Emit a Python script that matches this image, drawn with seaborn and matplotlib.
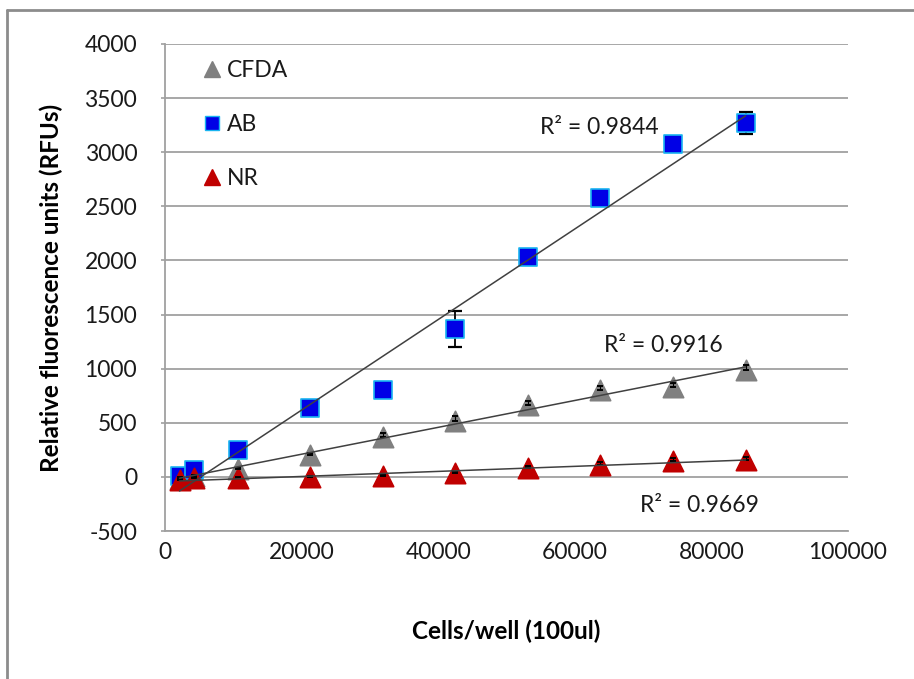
import matplotlib
matplotlib.use("Agg")
import matplotlib.pyplot as plt
import seaborn as sns
import numpy as np
import pandas as pd
from matplotlib.lines import Line2D

# ---------------- data ----------------
cells = [2125, 4250, 10625, 21250, 31875, 42500, 53125, 63750, 74375, 85000]
cfda = [-15, 10, 70, 200, 370, 520, 665, 800, 830, 990]
cfda_err = [10, 10, 15, 25, 35, 40, 40, 43, 37, 46]
ab = [5, 60, 250, 640, 800, 1365, 2030, 2575, 3080, 3270]
ab_err = [20, 20, 20, 20, 20, 165, 20, 20, 20, 105]
nr = [-30, -12, -12, -3, 5, 35, 80, 110, 148, 160]
nr_err = [10, 10, 10, 15, 15, 20, 20, 25, 25, 25]
series_names = ["CFDA", "AB", "NR"]
r2_labels = ["R\u00b2 = 0.9916", "R\u00b2 = 0.9844", "R\u00b2 = 0.9669"]
x_ticks = [0, 20000, 40000, 60000, 80000, 100000]
y_ticks = [-500, 0, 500, 1000, 1500, 2000, 2500, 3000, 3500, 4000]
x_label = "Cells/well (100ul)"
y_label = "Relative fluorescence units (RFUs)"

# ---------------- style ----------------
sns.set_theme(style="white")
plt.rcParams['font.family'] = ['Lato', 'DejaVu Sans']

W, H = 914, 679
fig = plt.figure(figsize=(W / 100, H / 100), dpi=100)
L, R, T, B = 165, 848, 44, 531
ax = fig.add_axes([L / W, 1 - B / H, (R - L) / W, (B - T) / H])

grid_c = "#a0a0a0"
colors = {"CFDA": "#808080", "AB": "#0000e6", "NR": "#c00000"}
edges = {"CFDA": "#808080", "AB": "#19b4f0", "NR": "#c00000"}
markers = {"CFDA": "^", "AB": "s", "NR": "^"}
sizes = {"CFDA": 215, "AB": 150, "NR": 215}

vals = {"CFDA": cfda, "AB": ab, "NR": nr}
errs = {"CFDA": cfda_err, "AB": ab_err, "NR": nr_err}

df = pd.DataFrame({
    "cells": cells * 3,
    "rfu": cfda + ab + nr,
    "series": [s for s in series_names for _ in cells],
})

# error bars for AB (under markers)
ax.errorbar(cells, ab, yerr=ab_err, fmt="none", ecolor="black",
            elinewidth=1.3, capsize=5, capthick=1.6, zorder=2)

for i, s in enumerate(series_names):
    sub = df[df["series"] == s]
    sns.scatterplot(data=sub, x="cells", y="rfu", ax=ax, marker=markers[s],
                    color=colors[s], edgecolor=edges[s], linewidth=1.2,
                    s=sizes[s], legend=False, zorder=3 + i)

# small error bars on triangles (upper only, visible on top)
for s in ["CFDA", "NR"]:
    e = errs[s]
    ax.errorbar(cells, vals[s], yerr=[np.zeros(len(e)), e], fmt="none",
                ecolor="black", elinewidth=0.8, capsize=2.5, capthick=1.4,
                zorder=7)

# linear trend lines
for s in series_names:
    sns.regplot(x=np.array(cells), y=np.array(vals[s]), ax=ax, scatter=False,
                ci=None, truncate=True,
                line_kws=dict(color="#404040", lw=1.1, zorder=8))

ax.set_xlim(0, 100000)
ax.set_ylim(-500, 4000)
ax.set_xticks(x_ticks)
ax.set_yticks(y_ticks)
ax.set_xticklabels([str(v) for v in x_ticks])
ax.set_yticklabels([str(v) for v in y_ticks])
ax.yaxis.grid(True, color=grid_c, lw=1.3)
ax.xaxis.grid(False)
for sp in ["top", "right"]:
    ax.spines[sp].set_visible(False)
for sp in ["left", "bottom"]:
    ax.spines[sp].set_visible(True)
    ax.spines[sp].set_color(grid_c)
    ax.spines[sp].set_linewidth(1.3)
ax.tick_params(axis="y", length=3, width=1.2, color=grid_c, pad=17,
               labelsize=16.5, labelcolor="#1a1a1a", left=True)
ax.tick_params(axis="x", length=0, pad=8, labelsize=16.5, labelcolor="#1a1a1a")
ax.set_xlabel(x_label, fontsize=17.5, fontweight="bold", color="black")
ax.set_ylabel(y_label, fontsize=17.5, fontweight="bold", color="black")
ax.yaxis.set_label_coords((63 - L) / (R - L), 0.5)
ax.xaxis.set_label_coords(0.5, -(620 - B) / (B - T))

# R^2 labels
ax.text(72900, 1218, r2_labels[0], fontsize=16.5, ha="center", va="center", color="#1a1a1a")
ax.text(63540, 3233, r2_labels[1], fontsize=16.5, ha="center", va="center", color="#1a1a1a")
ax.text(78200, -262, r2_labels[2], fontsize=16.5, ha="center", va="center", color="#1a1a1a")

# legend
handles = [
    Line2D([], [], ls="none", marker=markers[s], markersize=12 if s != "AB" else 10.5,
           markerfacecolor=colors[s], markeredgecolor=edges[s], markeredgewidth=1.0)
    for s in series_names
]
leg = ax.legend(handles, series_names, loc="upper left", frameon=False,
                fontsize=16.5, labelspacing=1.45, handletextpad=0.05,
                handlelength=1.2, bbox_to_anchor=(0.025, 1.0), borderaxespad=0.3)
for t in leg.get_texts():
    t.set_color("#1a1a1a")

# outer chart frame (left and top visible)
fig.add_artist(Line2D([7 / W, 7 / W], [0, 1 - 10 / H], transform=fig.transFigure,
                      color="#8c8c8c", lw=2))
fig.add_artist(Line2D([7 / W, 1], [1 - 10 / H, 1 - 10 / H], transform=fig.transFigure,
                      color="#8c8c8c", lw=2))

fig.savefig("out.png", dpi=100)
